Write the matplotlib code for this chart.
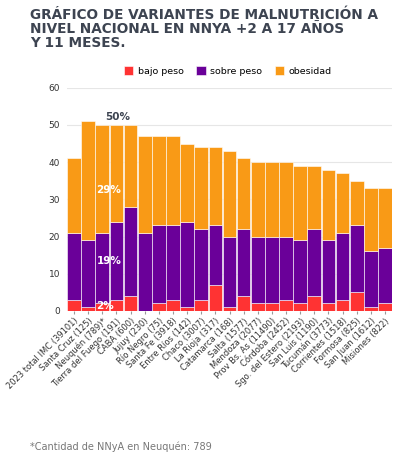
import matplotlib.pyplot as plt
import numpy as np

provincias = ["2023 total IMC (39101)", "Santa Cruz (125)", "Neuquén (789)*", "Tierra del Fuego (191)",
              "CABA (600)", "Jujuy (230)", "Río Negro (75)", "Santa Fe (3918)", "Entre Ríos (142)",
              "Chaco (3007)", "La Rioja (317)", "Catamarca (168)", "Salta (1577)", "Mendoza (2077)",
              "Prov Bs. As (11490)", "Córdoba (2452)", "Sgo. del Estero (2193)", "San Luis (1190)",
              "Tucumán (3773)", "Corrientes (1518)", "Formosa (825)", "San Juan (1612)", "Misiones (822)"]
bajo_peso = [3, 1, 2, 3, 4, 0, 2, 3, 1, 3, 7, 1, 4, 2, 2, 3, 2, 4, 2, 3, 5, 1, 2]
sobre_peso = [18, 18, 19, 21, 24, 21, 21, 20, 23, 19, 16, 19, 18, 18, 18, 17, 17, 18, 17, 18, 18, 15, 15]
obesidad = [20, 32, 29, 26, 22, 26, 24, 24, 21, 22, 21, 23, 19, 20, 20, 20, 20, 17, 19, 16, 12, 17, 16]

c_bajo = "#ff3333"
c_sobre = "#6a0099"
c_obes = "#f99a16"
gris = "#3d4451"

fig = plt.figure(figsize=(3.94, 4.62), dpi=100)
ax = fig.add_axes([0.170, 0.327, 0.825, 0.483])

x = np.arange(len(provincias))
b = np.array(bajo_peso)
s = np.array(sobre_peso)
o = np.array(obesidad)
ax.bar(x, b, width=0.97, color=c_bajo, edgecolor="white", linewidth=0.4, label="bajo peso", zorder=3)
ax.bar(x, s, bottom=b, width=0.97, color=c_sobre, edgecolor="white", linewidth=0.4, label="sobre peso", zorder=3)
ax.bar(x, o, bottom=b + s, width=0.97, color=c_obes, edgecolor="white", linewidth=0.4, label="obesidad", zorder=3)

# etiquetas en la barra de Neuquén
i = 2
xl = i - 0.42
ax.text(xl + 0.6, b[i] + s[i] + o[i] + 0.8, f"{b[i] + s[i] + o[i]}%", ha="left", va="bottom",
        fontsize=7.5, fontweight="bold", color=gris)
ax.text(xl, b[i] + s[i] + o[i] * 0.4, f"{o[i]}%", ha="left", va="center", fontsize=7.5,
        fontweight="bold", color="white", zorder=4)
ax.text(xl, b[i] + s[i] * 0.6, f"{s[i]}%", ha="left", va="center", fontsize=7.5,
        fontweight="bold", color="white", zorder=4)
ax.text(xl, 1.3, f"{b[i]}%", ha="left", va="center", fontsize=7.5,
        fontweight="bold", color="white", zorder=4)

ax.set_xlim(-0.5, len(provincias) - 0.5)
ax.set_ylim(0, 60)
ax.set_yticks(range(0, 61, 10))
ax.set_xticks(x)
ax.set_xticklabels(provincias, rotation=45, ha="right", rotation_mode="anchor", fontsize=6.0, color="#333333")
ax.tick_params(axis="y", labelsize=6.5, colors="#333333", length=0, pad=5)
ax.tick_params(axis="x", length=2, color="#999999", pad=2)
ax.grid(axis="y", color="#e6e6e6", linewidth=0.8, zorder=0)
for sp in ax.spines.values():
    sp.set_visible(False)

ax.legend(loc="lower center", bbox_to_anchor=(0.495, 1.015), ncol=3, frameon=False, fontsize=6.8,
          handlelength=1.0, handleheight=1.0, handletextpad=0.5, columnspacing=1.3)

fig.text(0.076, 0.982, "GRÁFICO DE VARIANTES DE MALNUTRICIÓN A\nNIVEL NACIONAL EN NNYA +2 A 17 AÑOS\nY 11 MESES.",
         ha="left", va="top", fontsize=9.8, fontweight="heavy", color=gris, linespacing=1.0,
         family="DejaVu Sans")
fig.text(0.076, 0.032, "*Cantidad de NNyA en Neuquén: 789", ha="left", va="center", fontsize=7,
         color="#777777")

fig.savefig("out.png", dpi=100)
